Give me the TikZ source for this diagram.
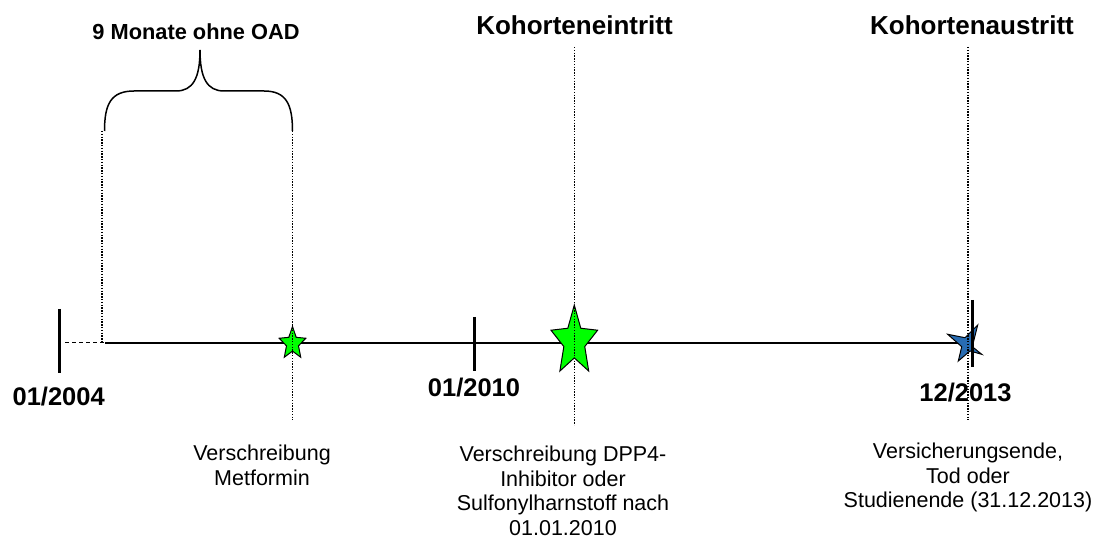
\documentclass[tikz,border=0pt]{standalone}
\usepackage{fontspec}
\setmainfont{Liberation Sans}
\definecolor{markgreen}{RGB}{0,255,0}
\definecolor{exitblue}{RGB}{40,108,178}
% five-pointed star: centre, outer x/y radius, inner x/y radius, fill
\newcommand\pentastar[6]{%
  \draw[starline, fill=#6, shift={(#1)}, yscale=-1]
    (90:#2 and #3) -- (126:#4 and #5) -- (162:#2 and #3) -- (198:#4 and #5)
    -- (234:#2 and #3) -- (270:#4 and #5) -- (306:#2 and #3) -- (342:#4 and #5)
    -- (18:#2 and #3) -- (54:#4 and #5) -- cycle;}
\begin{document}
\begin{tikzpicture}[x=1pt,y=-1pt,
  axis/.style={line width=2.8pt},
  tickmark/.style={line width=3pt},
  guide/.style={line width=1.5pt, dash pattern=on 1.4pt off 1.4pt},
  lead/.style={line width=1pt, dash pattern=on 4pt off 3pt},
  bracket/.style={line width=1.5pt},
  starline/.style={draw=black, line width=1pt, line join=miter},
  datelbl/.style={font=\bfseries\fontsize{25.5}{30}\selectfont, anchor=base, inner sep=0pt},
  headlbl/.style={font=\bfseries\fontsize{26}{30}\selectfont, anchor=base, inner sep=0pt},
  spanlbl/.style={font=\bfseries\fontsize{21.8}{26}\selectfont, anchor=base, inner sep=0pt},
  note/.style={font=\fontsize{21.5}{24.5}\selectfont, align=center, anchor=north, inner sep=0pt}]
\useasboundingbox (0,0) rectangle (1101,545);

% time axis
\coordinate (lead start) at (65,343);
\coordinate (obs start) at (105,343);
\coordinate (axis end) at (972,343);
\draw[lead] (lead start) -- (obs start);
\draw[axis] (obs start) -- (axis end);

% events on the axis
\coordinate (metformin) at (292.5,343.5);
\coordinate (entry star) at (574.3,341.5);
\pentastar{metformin}{14}{17}{6.3}{7.6}{markgreen}
\pentastar{entry star}{24.5}{36.5}{11}{16.4}{markgreen}
\draw[starline, fill=exitblue] (947.7,334.3) -- (965,337.7) -- (977.7,325)
  -- (972.3,346.7) -- (981.7,354.3) -- (970,351) -- (958.3,361)
  -- (961.7,346.7) -- cycle;

% year ticks
\draw[tickmark] (59,309) -- (59,373);
\draw[tickmark] (474.3,317) -- (474.3,371);
\draw[tickmark] (972,300) -- (972,367);

% guide lines
\draw[guide] (102,131) -- (obs start -| 102,343);
\draw[guide] (292.5,131) -- (292.5,420);
\draw[guide] (574.3,47) -- (574.3,425);
\draw[guide] (968,47) -- (968,420);

% brace over the wash-out period
\draw[bracket] (104.5,131) .. controls (104.5,104) and (111,91) .. (134,91)
  -- (176,91) .. controls (193,91) and (200,78) .. (200,50)
  .. controls (200,78) and (207,91) .. (224,91)
  -- (264,91) .. controls (286,91) and (292.5,104) .. (292.5,131);

% labels
\node[spanlbl] (washout) at (196,40) {9 Monate ohne OAD};
\node[headlbl] (entry) at (574.5,35) {Kohorteneintritt};
\node[headlbl] (exit) at (972,35) {Kohortenaustritt};
\node[datelbl] (d2004) at (58.7,406) {01/2004};
\node[datelbl] (d2010) at (474,396.5) {01/2010};
\node[datelbl] (d2013) at (965.5,401.5) {12/2013};
\node[note] (rx metformin) at (262,445) {Verschreibung\\Metformin};
\node[note] (rx entry) at (563,446) {Verschreibung DPP4-\\Inhibitor oder\\Sulfonylharnstoff nach\\01.01.2010};
\node[note] (rx exit) at (968,443) {Versicherungsende,\\Tod oder\\Studienende (31.12.2013)};
\end{tikzpicture}
\end{document}
